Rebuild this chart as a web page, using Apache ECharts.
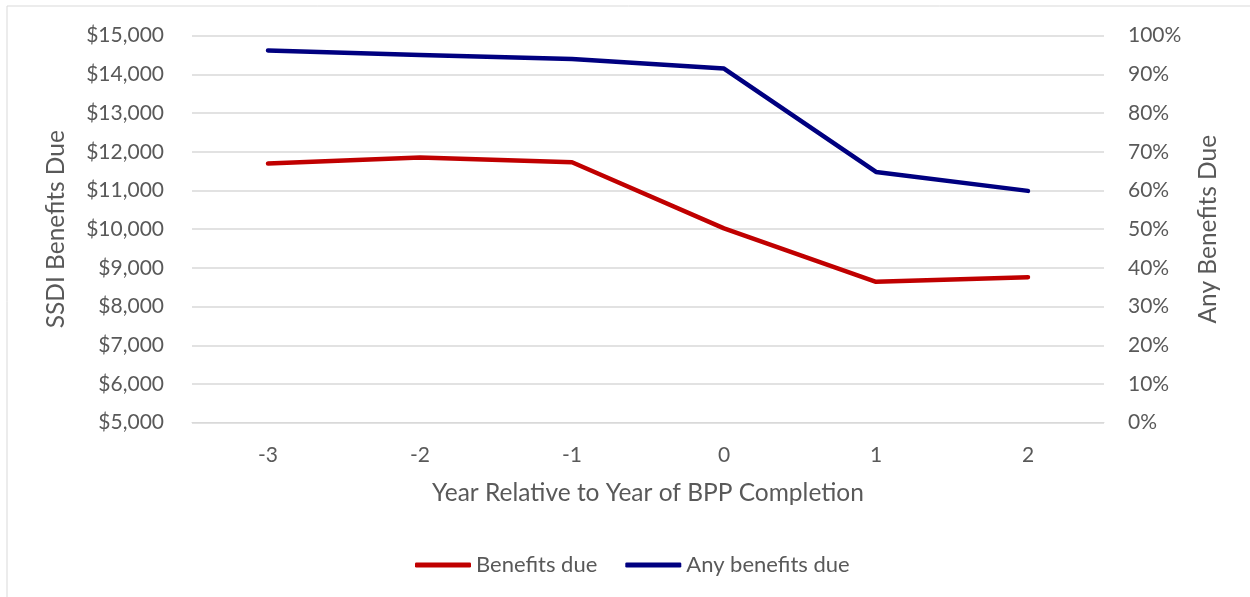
<!DOCTYPE html>
<html>
<head>
<meta charset="utf-8">
<script src="https://cdn.jsdelivr.net/npm/echarts@6/dist/echarts.min.js"></script>
<style>
  html, body { margin: 0; padding: 0; background: #ffffff; }
  #chart { width: 1250px; height: 597px; }
</style>
</head>
<body>
<div id="chart"></div>
<script>
// Years relative to the year of BPP completion
const years = ['-3', '-2', '-1', '0', '1', '2'];
// Average SSDI benefits due (dollars, left axis)
const benefitsDue = [11700, 11850, 11730, 10020, 8640, 8760];
// Share with any benefits due (percent, right axis)
const anyBenefitsDue = [96.2, 95.0, 94.0, 91.5, 64.8, 59.9];

const textColor = '#595959';
const gridColor = '#d9d9d9';
const fontFamily = 'Lato, "Open Sans", sans-serif';

const chart = echarts.init(document.getElementById('chart'));

chart.setOption({
  backgroundColor: '#ffffff',
  animation: false,
  textStyle: { fontFamily: fontFamily, color: textColor },
  graphic: [
    { type: 'line', shape: { x1: 7, y1: 6, x2: 1250, y2: 6 }, style: { stroke: '#d9d9d9', lineWidth: 1 } },
    { type: 'line', shape: { x1: 7, y1: 6, x2: 7, y2: 597 }, style: { stroke: '#d9d9d9', lineWidth: 1 } }
  ],
  grid: { left: 192, right: 146, top: 35.7, bottom: 174.3 },
  legend: {
    bottom: 16,
    left: 410,
    itemWidth: 56,
    itemHeight: 5,
    itemGap: 28,
    icon: 'roundRect',
    textStyle: { fontFamily: fontFamily, fontSize: 22, color: textColor, padding: [0, 0, 0, 0] },
    data: ['Benefits due', 'Any benefits due']
  },
  xAxis: {
    type: 'category',
    data: years,
    boundaryGap: true,
    name: 'Year Relative to Year of BPP Completion',
    nameLocation: 'middle',
    nameGap: 58,
    nameTextStyle: { fontFamily: fontFamily, fontSize: 24.5, color: textColor },
    axisLine: { show: true, lineStyle: { color: gridColor, width: 1 } },
    axisTick: { show: false },
    axisLabel: { fontFamily: fontFamily, fontSize: 21, color: textColor, margin: 22 }
  },
  yAxis: [
    {
      type: 'value',
      min: 5000,
      max: 15000,
      interval: 1000,
      position: 'left',
      name: 'SSDI Benefits Due',
      nameLocation: 'middle',
      nameGap: 123,
      nameTextStyle: { fontFamily: fontFamily, fontSize: 24.5, color: textColor },
      axisLine: { show: false },
      axisTick: { show: false },
      splitLine: { lineStyle: { color: gridColor, width: 1.5 } },
      axisLabel: {
        fontFamily: fontFamily, fontSize: 21, color: textColor, margin: 28,
        formatter: v => '$' + v.toLocaleString('en-US')
      }
    },
    {
      type: 'value',
      min: 0,
      max: 100,
      interval: 10,
      position: 'right',
      name: 'Any Benefits Due',
      nameLocation: 'middle',
      nameGap: 92,
      nameRotate: 90,
      nameTextStyle: { fontFamily: fontFamily, fontSize: 24.5, color: textColor },
      axisLine: { show: false },
      axisTick: { show: false },
      splitLine: { show: false },
      axisLabel: {
        fontFamily: fontFamily, fontSize: 21, color: textColor, margin: 24,
        formatter: v => v + '%'
      }
    }
  ],
  series: [
    {
      name: 'Benefits due',
      type: 'line',
      yAxisIndex: 0,
      data: benefitsDue,
      symbol: 'none',
      lineStyle: { color: '#c00000', width: 4.5, cap: 'round', join: 'round' },
      itemStyle: { color: '#c00000' }
    },
    {
      name: 'Any benefits due',
      type: 'line',
      yAxisIndex: 1,
      data: anyBenefitsDue,
      symbol: 'none',
      lineStyle: { color: '#000080', width: 4.5, cap: 'round', join: 'round' },
      itemStyle: { color: '#000080' }
    }
  ]
});
</script>
</body>
</html>
